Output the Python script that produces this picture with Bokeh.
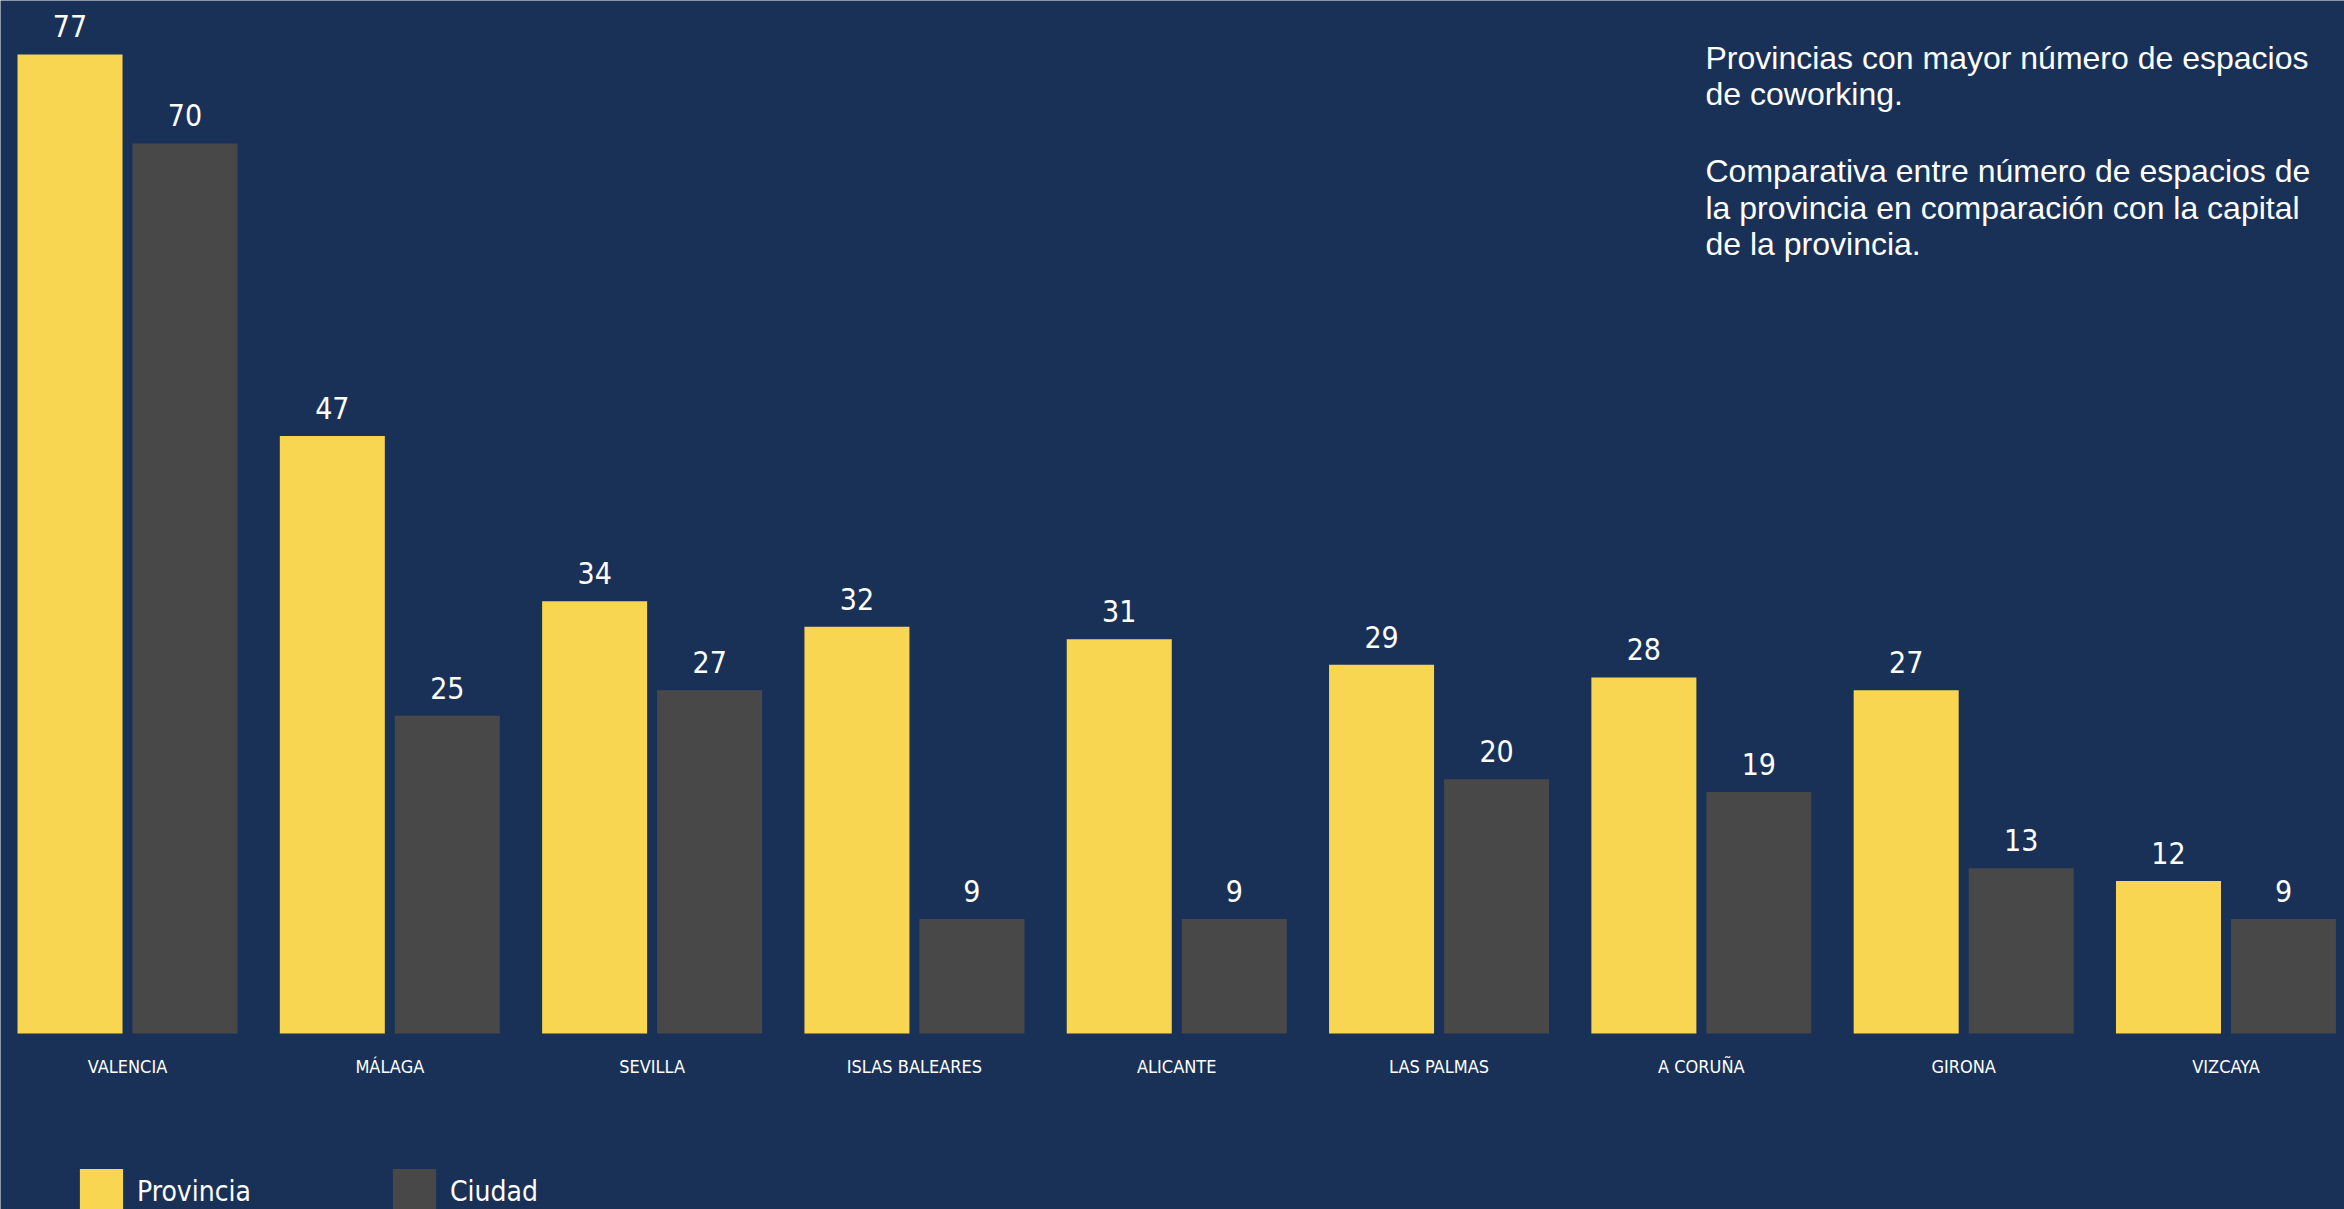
from bokeh.plotting import figure
from bokeh.models import ColumnDataSource, Range1d, Label
from bokeh.transform import dodge
from bokeh.core.properties import value
from bokeh.embed import file_html
from bokeh.resources import INLINE

categories = ["VALENCIA", "MÁLAGA", "SEVILLA", "ISLAS BALEARES", "ALICANTE",
              "LAS PALMAS", "A CORUÑA", "GIRONA", "VIZCAYA"]
provincia = [77, 47, 34, 32, 31, 29, 28, 27, 12]
ciudad = [70, 25, 27, 9, 9, 20, 19, 13, 9]
series_names = ["Provincia", "Ciudad"]
note_lines = [
    "Provincias con mayor número de espacios",
    "de coworking.",
    "",
    "Comparativa entre número de espacios de",
    "la provincia en comparación con la capital",
    "de la provincia.",
]

BG = "#1a3157"
YELLOW = "#f9d652"
GRAY = "#484848"
COND = "'Liberation Sans Narrow', 'DejaVu Sans Condensed', Roboto, sans-serif"

W, H = 2344, 1209
xs = list(range(len(categories)))
source = ColumnDataSource(dict(
    x=xs, cat=categories, prov=provincia, ciu=ciudad,
    prov_lbl=[str(v) for v in provincia], ciu_lbl=[str(v) for v in ciudad],
    zero=[0] * len(categories),
))

p = figure(width=W, height=H, output_backend="svg", toolbar_location=None,
           x_axis_location=None, y_axis_location=None,
           x_range=Range1d(-0.4842, 8.4518), y_range=Range1d(-13.843, 81.247),
           min_border=0, background_fill_color=BG, border_fill_color=BG,
           outline_line_color=None)
p.grid.visible = False

off = 0.2192
bw = 0.4003
p.vbar(x=dodge("x", -off, range=p.x_range), top="prov", width=bw, source=source,
       fill_color=YELLOW, line_color=None, legend_label=series_names[0])
p.vbar(x=dodge("x", off, range=p.x_range), top="ciu", width=bw, source=source,
       fill_color=GRAY, line_color=None, legend_label=series_names[1])

p.text(x=dodge("x", -off, range=p.x_range), y="prov", text="prov_lbl", source=source,
       text_align="center", text_baseline="alphabetic", y_offset=-28,
       text_color="white", text_font=value(COND), text_font_size="30px")
p.text(x=dodge("x", off, range=p.x_range), y="ciu", text="ciu_lbl", source=source,
       text_align="center", text_baseline="alphabetic", y_offset=-28,
       text_color="white", text_font=value(COND), text_font_size="30px")

# category labels
p.text(x="x", y="zero", text="cat", source=source,
       text_align="center", text_baseline="alphabetic", y_offset=33,
       text_color="white", text_font=value(COND), text_font_size="18px")

# note block
line_h = 36.5
top = H - 39
for i, line in enumerate(note_lines):
    if not line:
        continue
    p.add_layout(Label(x=1705, y=top - i * line_h - (4 if i > 2 else 0),
                       x_units="screen", y_units="screen",
                       text=line, text_color="white", text_baseline="top",
                       text_font="Liberation Sans", text_font_size="32px"))

lg = p.legend[0]
lg.location = (74, -10)
lg.orientation = "horizontal"
lg.background_fill_alpha = 0
lg.border_line_color = None
lg.glyph_width = 54
lg.glyph_height = 56
lg.label_standoff = 9
lg.spacing = 136
lg.padding = 0
lg.margin = 0
lg.label_text_color = "white"
lg.label_text_font = COND
lg.label_text_font_size = "28px"

open("out.html", "w").write(file_html(p, INLINE))
